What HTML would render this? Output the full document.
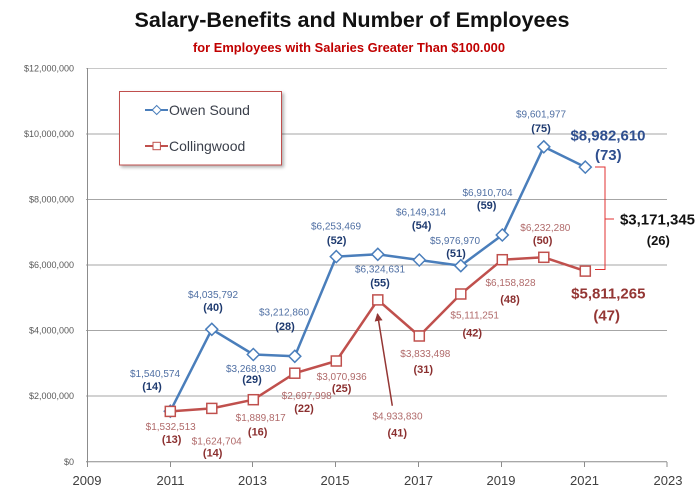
<!DOCTYPE html>
<html><head><meta charset="utf-8"><style>
html,body{margin:0;padding:0;background:#fff;}
svg{display:block;}
text{font-family:"Liberation Sans",sans-serif;}
.yl{font-size:9px;fill:#595959;text-anchor:end;}
.xl{font-size:13px;fill:#404040;text-anchor:middle;}
.bv{font-size:10px;fill:#4f6fa3;text-anchor:middle;}
.bc{font-size:11px;fill:#1f3b70;font-weight:bold;text-anchor:middle;}
.rv{font-size:10px;fill:#b06a6a;text-anchor:middle;}
.rc{font-size:11px;fill:#8b2f2f;font-weight:bold;text-anchor:middle;}
</style></head><body>
<svg width="700" height="499" viewBox="0 0 700 499" xmlns="http://www.w3.org/2000/svg">
<defs>
<filter id="sh" x="-10%" y="-10%" width="130%" height="140%"><feDropShadow dx="2" dy="2" stdDeviation="1.5" flood-color="#000" flood-opacity="0.3"/></filter>
<marker id="ah" markerWidth="8" markerHeight="8" refX="7" refY="4" orient="auto" markerUnits="userSpaceOnUse"><path d="M0,0 L8,4 L0,8 z" fill="#943634"/></marker>
</defs>
<!-- Title -->
<text x="352" y="27" font-size="21" font-weight="bold" fill="#111" text-anchor="middle" textLength="435" lengthAdjust="spacingAndGlyphs">Salary-Benefits and Number of Employees</text>
<text x="349" y="52" font-size="13" font-weight="bold" fill="#c00000" text-anchor="middle" textLength="312" lengthAdjust="spacingAndGlyphs">for Employees with Salaries Greater Than $100.000</text>
<!-- gridlines -->
<g stroke="#a6a6a6" stroke-width="1">
<line x1="86" y1="68.5" x2="667" y2="68.5" stroke="#c8c8c8"/>
<line x1="86" y1="134" x2="667" y2="134"/>
<line x1="86" y1="199.5" x2="667" y2="199.5"/>
<line x1="86" y1="265" x2="667" y2="265"/>
<line x1="86" y1="330.5" x2="667" y2="330.5"/>
<line x1="86" y1="396" x2="667" y2="396"/>
</g>
<g stroke="#8c8c8c" stroke-width="1">
<line x1="87.5" y1="68" x2="87.5" y2="462"/>
<line x1="86" y1="461.7" x2="667" y2="461.7"/>
<line x1="87.5" y1="462" x2="87.5" y2="467"/>
<line x1="170.5" y1="462" x2="170.5" y2="467"/>
<line x1="252.5" y1="462" x2="252.5" y2="467"/>
<line x1="335.5" y1="462" x2="335.5" y2="467"/>
<line x1="418.5" y1="462" x2="418.5" y2="467"/>
<line x1="501.5" y1="462" x2="501.5" y2="467"/>
<line x1="584.5" y1="462" x2="584.5" y2="467"/>
<line x1="667" y1="462" x2="667" y2="467"/>
</g>
<!-- y labels -->
<text class="yl" x="74" y="71.5">$12,000,000</text>
<text class="yl" x="74" y="137">$10,000,000</text>
<text class="yl" x="74" y="202.5">$8,000,000</text>
<text class="yl" x="74" y="268">$6,000,000</text>
<text class="yl" x="74" y="333.5">$4,000,000</text>
<text class="yl" x="74" y="399">$2,000,000</text>
<text class="yl" x="74" y="465">$0</text>
<!-- x labels -->
<text class="xl" x="87" y="485">2009</text>
<text class="xl" x="170.5" y="485">2011</text>
<text class="xl" x="252.5" y="485">2013</text>
<text class="xl" x="335" y="485">2015</text>
<text class="xl" x="418.5" y="485">2017</text>
<text class="xl" x="501" y="485">2019</text>
<text class="xl" x="584.5" y="485">2021</text>
<text class="xl" x="668" y="485">2023</text>
<!-- Legend -->
<rect x="119.5" y="91.5" width="162" height="73.5" fill="#fff" stroke="#c0504d" stroke-width="1" filter="url(#sh)"/>
<line x1="145" y1="110" x2="168" y2="110" stroke="#4a7ebb" stroke-width="2"/>
<path d="M156.7,105.5 L161.2,110 L156.7,114.5 L152.2,110 Z" fill="#fff" stroke="#4a7ebb" stroke-width="1"/>
<text x="169" y="115" font-size="14" fill="#3a3f4a">Owen Sound</text>
<line x1="145" y1="146" x2="168" y2="146" stroke="#c0504d" stroke-width="2"/>
<rect x="153" y="142.3" width="7.4" height="7.4" fill="#fff" stroke="#c0504d" stroke-width="1"/>
<text x="169" y="151" font-size="14" fill="#3a3f4a">Collingwood</text>
<!-- bracket -->
<g stroke="#e03030" stroke-width="1" fill="none">
<polyline points="595,167 605,167 605,269.5 595,269.5"/>
<line x1="605" y1="219" x2="614" y2="219"/>
</g>
<!-- Owen Sound series -->
<polyline fill="none" stroke="#4a7ebb" stroke-width="2.5" stroke-linejoin="round" points="170.3,411.2 211.8,329.3 253.3,354.5 294.8,356.3 336.3,256.6 377.8,254.3 419.3,260 460.8,265.7 502.3,235 543.8,146.8 585.3,167.1"/>
<g fill="#fff" stroke="#4a7ebb" stroke-width="1.5">
<path d="M170.3,405.2 l6,6 l-6,6 l-6,-6 z"/>
<path d="M211.8,323.3 l6,6 l-6,6 l-6,-6 z"/>
<path d="M253.3,348.5 l6,6 l-6,6 l-6,-6 z"/>
<path d="M294.8,350.3 l6,6 l-6,6 l-6,-6 z"/>
<path d="M336.3,250.6 l6,6 l-6,6 l-6,-6 z"/>
<path d="M377.8,248.3 l6,6 l-6,6 l-6,-6 z"/>
<path d="M419.3,254 l6,6 l-6,6 l-6,-6 z"/>
<path d="M460.8,259.7 l6,6 l-6,6 l-6,-6 z"/>
<path d="M502.3,229 l6,6 l-6,6 l-6,-6 z"/>
<path d="M543.8,140.8 l6,6 l-6,6 l-6,-6 z"/>
<path d="M585.3,161.1 l6,6 l-6,6 l-6,-6 z"/>
</g>
<!-- Collingwood series -->
<polyline fill="none" stroke="#c0504d" stroke-width="2.5" stroke-linejoin="round" points="170.3,411.4 211.8,408.4 253.3,399.7 294.8,373.2 336.3,361 377.8,299.9 419.3,336 460.8,294 502.3,259.7 543.8,257.3 585.3,271.1"/>
<g fill="#fff" stroke="#c0504d" stroke-width="1.5">
<rect x="165.3" y="406.4" width="10" height="10"/>
<rect x="206.8" y="403.4" width="10" height="10"/>
<rect x="248.3" y="394.7" width="10" height="10"/>
<rect x="289.8" y="368.2" width="10" height="10"/>
<rect x="331.3" y="356" width="10" height="10"/>
<rect x="372.8" y="294.9" width="10" height="10"/>
<rect x="414.3" y="331" width="10" height="10"/>
<rect x="455.8" y="289" width="10" height="10"/>
<rect x="497.3" y="254.7" width="10" height="10"/>
<rect x="538.8" y="252.3" width="10" height="10"/>
<rect x="580.3" y="266.1" width="10" height="10"/>
</g>
<!-- arrow -->
<line x1="392.3" y1="405.7" x2="377.5" y2="314" stroke="#943634" stroke-width="1.5" marker-end="url(#ah)"/>
<!-- Owen Sound labels -->
<text class="bv" x="155" y="377">$1,540,574</text>
<text class="bc" x="152" y="390">(14)</text>
<text class="bv" x="213" y="298">$4,035,792</text>
<text class="bc" x="213" y="311">(40)</text>
<text class="bv" x="251" y="372">$3,268,930</text>
<text class="bc" x="252" y="383">(29)</text>
<text class="bv" x="284" y="315.5">$3,212,860</text>
<text class="bc" x="285" y="330">(28)</text>
<text class="bv" x="336" y="229.5">$6,253,469</text>
<text class="bc" x="336.7" y="244">(52)</text>
<text class="bv" x="380" y="272.5">$6,324,631</text>
<text class="bc" x="380" y="286.5">(55)</text>
<text class="bv" x="421" y="215.5">$6,149,314</text>
<text class="bc" x="421.7" y="229">(54)</text>
<text class="bv" x="455" y="244">$5,976,970</text>
<text class="bc" x="456" y="257">(51)</text>
<text class="bv" x="487.5" y="196">$6,910,704</text>
<text class="bc" x="486.7" y="209">(59)</text>
<text class="bv" x="541" y="117.5">$9,601,977</text>
<text class="bc" x="541" y="132">(75)</text>
<text x="608" y="140.5" font-size="15" font-weight="bold" fill="#2f4f8f" text-anchor="middle">$8,982,610</text>
<text x="608.3" y="160" font-size="15" font-weight="bold" fill="#2f4f8f" text-anchor="middle">(73)</text>
<!-- Collingwood labels -->
<text class="rv" x="170.7" y="430">$1,532,513</text>
<text class="rc" x="171.7" y="443">(13)</text>
<text class="rv" x="216.7" y="444.5">$1,624,704</text>
<text class="rc" x="212.7" y="456.5">(14)</text>
<text class="rv" x="260.7" y="421">$1,889,817</text>
<text class="rc" x="257.7" y="435.5">(16)</text>
<text class="rv" x="306.7" y="399">$2,697,998</text>
<text class="rc" x="304" y="412">(22)</text>
<text class="rv" x="341.7" y="380">$3,070,936</text>
<text class="rc" x="341.7" y="392">(25)</text>
<text class="rv" x="397.5" y="419.5">$4,933,830</text>
<text class="rc" x="397.3" y="436.5">(41)</text>
<text class="rv" x="425.3" y="357">$3,833,498</text>
<text class="rc" x="423.3" y="373">(31)</text>
<text class="rv" x="474.7" y="318.5">$5,111,251</text>
<text class="rc" x="472.3" y="336.5">(42)</text>
<text class="rv" x="510.5" y="286">$6,158,828</text>
<text class="rc" x="510" y="303">(48)</text>
<text class="rv" x="545.3" y="231">$6,232,280</text>
<text class="rc" x="542.7" y="244">(50)</text>
<text x="608.3" y="298.5" font-size="15" font-weight="bold" fill="#943634" text-anchor="middle">$5,811,265</text>
<text x="606.7" y="320.5" font-size="15" font-weight="bold" fill="#943634" text-anchor="middle">(47)</text>
<!-- difference -->
<text x="657.5" y="224.5" font-size="15" font-weight="bold" fill="#111" text-anchor="middle">$3,171,345</text>
<text x="658.3" y="245" font-size="13" font-weight="bold" fill="#111" text-anchor="middle">(26)</text>
</svg>
</body></html>
